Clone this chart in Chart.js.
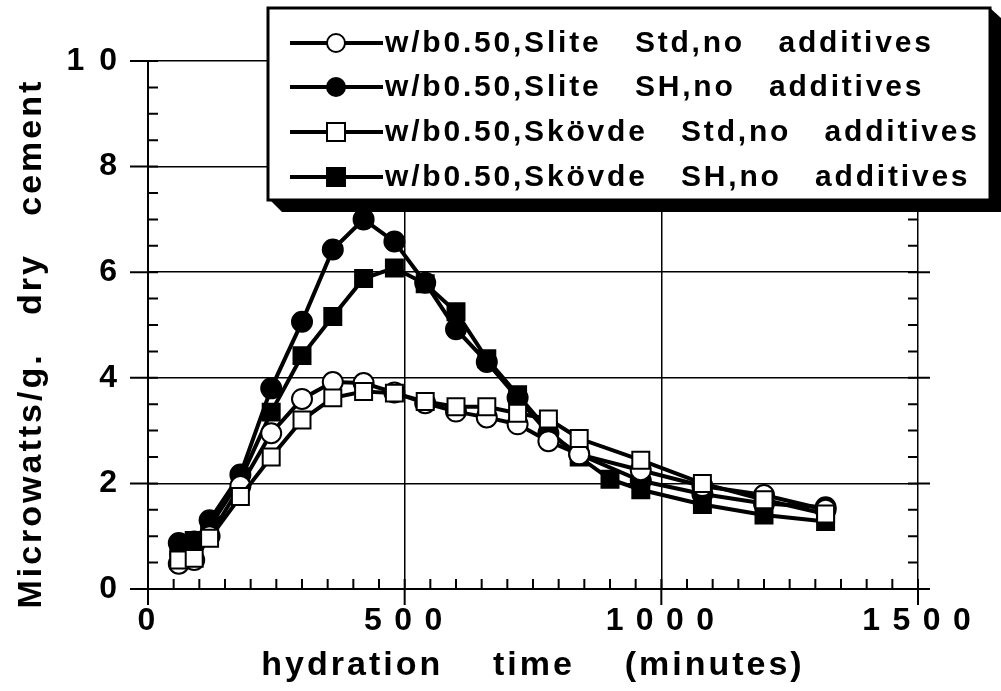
<!DOCTYPE html>
<html>
<head>
<meta charset="utf-8">
<script src="https://cdn.jsdelivr.net/npm/chart.js@4.4.1/dist/chart.umd.min.js"></script>
<style>
  html, body { margin: 0; padding: 0; background: #fff; }
  #wrap { width: 1001px; height: 691px; position: relative; }
</style>
</head>
<body>
<div id="wrap"><canvas id="heat"></canvas></div>
<script>
// hydration time (minutes)
const minutes = [60, 90, 120, 180, 240, 300, 360, 420, 480, 540, 600, 660, 720, 780, 840, 900, 960, 1080, 1200, 1320];

// microwatts / g dry cement
const sliteStd  = [0.48, 0.55, 1.00, 1.95, 2.95, 3.60, 3.92, 3.90, 3.72, 3.52, 3.36, 3.25, 3.12, 2.80, 2.55, null, 2.25, 1.95, 1.78, 1.50];
const sliteSH   = [0.87, 0.90, 1.30, 2.17, 3.80, 5.06, 6.43, 7.00, 6.58, 5.80, 4.92, 4.30, 3.62, 2.95, 2.55, null, 2.05, 1.80, 1.62, 1.55];
const skovdeStd = [0.55, 0.58, 0.96, 1.75, 2.50, 3.20, 3.62, 3.74, 3.71, 3.55, 3.45, 3.45, 3.33, 3.22, 2.85, null, 2.44, 2.00, 1.69, 1.42];
const skovdeSH  = [0.78, 0.92, 1.18, 2.08, 3.35, 4.42, 5.16, 5.88, 6.08, 5.78, 5.25, 4.36, 3.68, 3.00, 2.50, 2.08, 1.88, 1.60, 1.40, 1.28];

const seriesLabels = [
  "w/b0.50,Slite   Std,no   additives",
  "w/b0.50,Slite   SH,no   additives",
  "w/b0.50,Skövde   Std,no   additives",
  "w/b0.50,Skövde   SH,no   additives"
];

const xTicks = [0, 500, 1000, 1500];
const yTicks = [0, 2, 4, 6, 8, 10];

const FONT = "'Liberation Sans', Arial, Helvetica, sans-serif";

function pts(vals) {
  return minutes.map((m, i) => ({ x: m, y: vals[i] })).filter(p => p.y !== null);
}

function makeSet(label, vals, style, filled, order) {
  return {
    label: label,
    data: pts(vals),
    borderColor: '#000',
    borderWidth: 4,
    pointStyle: style,
    pointRadius: style === 'rect' ? 12 : 10,
    pointBackgroundColor: filled ? '#000' : '#fff',
    pointBorderColor: '#000',
    pointBorderWidth: 2,
    fill: false,
    tension: 0,
    order: order
  };
}

// the old print has widely tracked lettering
const tracking = {
  id: 'tracking',
  beforeUpdate(chart) { chart.ctx.letterSpacing = '3px'; },
  beforeDraw(chart) { chart.ctx.letterSpacing = '3px'; }
};

// tick marks: minor inward, major crossing the axis
const axisTicks = {
  id: 'axisTicks',
  afterDatasetsDraw(chart) {
    const { ctx, scales: { x, y }, chartArea: a } = chart;
    ctx.save();
    ctx.strokeStyle = '#000';
    ctx.lineWidth = 2;
    ctx.beginPath();
    for (let v = 0; v <= 10.001; v += 0.5) {
      const py = y.getPixelForValue(v);
      const major = Math.abs(v % 2) < 0.001;
      ctx.moveTo(a.left - (major ? 18 : 0), py);
      ctx.lineTo(a.left + 10, py);
      ctx.moveTo(a.right - 10, py);
      ctx.lineTo(a.right + (major ? 12 : 0), py);
    }
    for (let v = 0; v <= 1500; v += 50) {
      const px = x.getPixelForValue(v);
      const major = v % 500 === 0;
      ctx.moveTo(px, a.bottom + (major ? 16 : 0));
      ctx.lineTo(px, a.bottom - 10);
    }
    ctx.stroke();
    ctx.restore();
  }
};

// boxed legend with a drop shadow, drawn over the plot
const shadowLegend = {
  id: 'shadowLegend',
  afterDraw(chart) {
    const ctx = chart.ctx;
    const L = 268, T = 8, R = 990, B = 200;
    ctx.save();
    // shadow
    ctx.fillStyle = '#000';
    ctx.beginPath();
    ctx.moveTo(L + 2, B);
    ctx.lineTo(L + 14, B + 12);
    ctx.lineTo(R + 11, B + 12);
    ctx.lineTo(R + 11, T + 10);
    ctx.lineTo(R, T);
    ctx.closePath();
    ctx.fill();
    // box
    ctx.fillStyle = '#fff';
    ctx.fillRect(L, T, R - L, B - T);
    ctx.lineWidth = 3;
    ctx.strokeStyle = '#000';
    ctx.strokeRect(L, T, R - L, B - T);

    const rows = [43, 87, 132, 177];
    ctx.font = 'bold 30px ' + FONT;
    ctx.letterSpacing = '2.8px';
    ctx.textBaseline = 'middle';
    ctx.textAlign = 'left';
    chart.data.datasets.forEach((ds, i) => {
      const cy = rows[i];
      ctx.strokeStyle = '#000';
      ctx.lineWidth = 4;
      ctx.beginPath();
      ctx.moveTo(290, cy);
      ctx.lineTo(383, cy);
      ctx.stroke();
      ctx.fillStyle = ds.pointBackgroundColor;
      ctx.lineWidth = 2;
      ctx.beginPath();
      if (ds.pointStyle === 'rect') {
        ctx.rect(327, cy - 9, 18, 18);
      } else {
        ctx.arc(336, cy, 9, 0, Math.PI * 2);
      }
      ctx.fill();
      ctx.stroke();
      ctx.fillStyle = '#000';
      ctx.fillText(ds.label, 385, cy + 1);
    });
    ctx.restore();
  }
};

new Chart(document.getElementById('heat'), {
  type: 'line',
  data: {
    datasets: [
      makeSet(seriesLabels[0], sliteStd, 'circle', false, 1),
      makeSet(seriesLabels[1], sliteSH, 'circle', true, 3),
      makeSet(seriesLabels[2], skovdeStd, 'rect', false, 0),
      makeSet(seriesLabels[3], skovdeSH, 'rect', true, 2)
    ]
  },
  options: {
    responsive: true,
    maintainAspectRatio: false,
    animation: false,
    spanGaps: true,
    layout: { padding: { top: 61, right: 83, left: 0, bottom: 0 } },
    plugins: {
      legend: { display: false },
      tooltip: { enabled: false }
    },
    scales: {
      x: {
        type: 'linear',
        min: 0,
        max: 1500,
        afterBuildTicks: s => { s.ticks = xTicks.map(v => ({ value: v })); },
        afterFit: s => { s.height = 102; },
        grid: { color: '#000', lineWidth: 1.5, drawTicks: false },
        border: { color: '#000', width: 2 },
        ticks: {
          color: '#000',
          padding: 13,
          maxRotation: 0,
          font: { family: FONT, size: 32, weight: 'bold' },
          callback: v => String(v).split('').join('\u2009')
        },
        title: {
          display: true,
          text: 'hydration    time    (minutes)',
          color: '#000',
          font: { family: FONT, size: 34, weight: 'bold' },
          padding: { top: 0, bottom: 5 }
        }
      },
      y: {
        min: 0,
        max: 10,
        afterBuildTicks: s => { s.ticks = yTicks.map(v => ({ value: v })); },
        afterFit: s => { s.width = 148; },
        grid: { color: '#000', lineWidth: 1.5, drawTicks: false },
        border: { color: '#000', width: 2 },
        ticks: {
          color: '#000',
          padding: 28,
          font: { family: FONT, size: 32, weight: 'bold' },
          callback: v => String(v).split('').join(' ')
        },
        title: {
          display: true,
          text: 'Microwatts/g.   dry   cement   ',
          color: '#000',
          font: { family: FONT, size: 34, weight: 'bold' },
          padding: { top: 11, bottom: 4 }
        }
      }
    }
  },
  plugins: [tracking, axisTicks, shadowLegend]
});
</script>
</body>
</html>
